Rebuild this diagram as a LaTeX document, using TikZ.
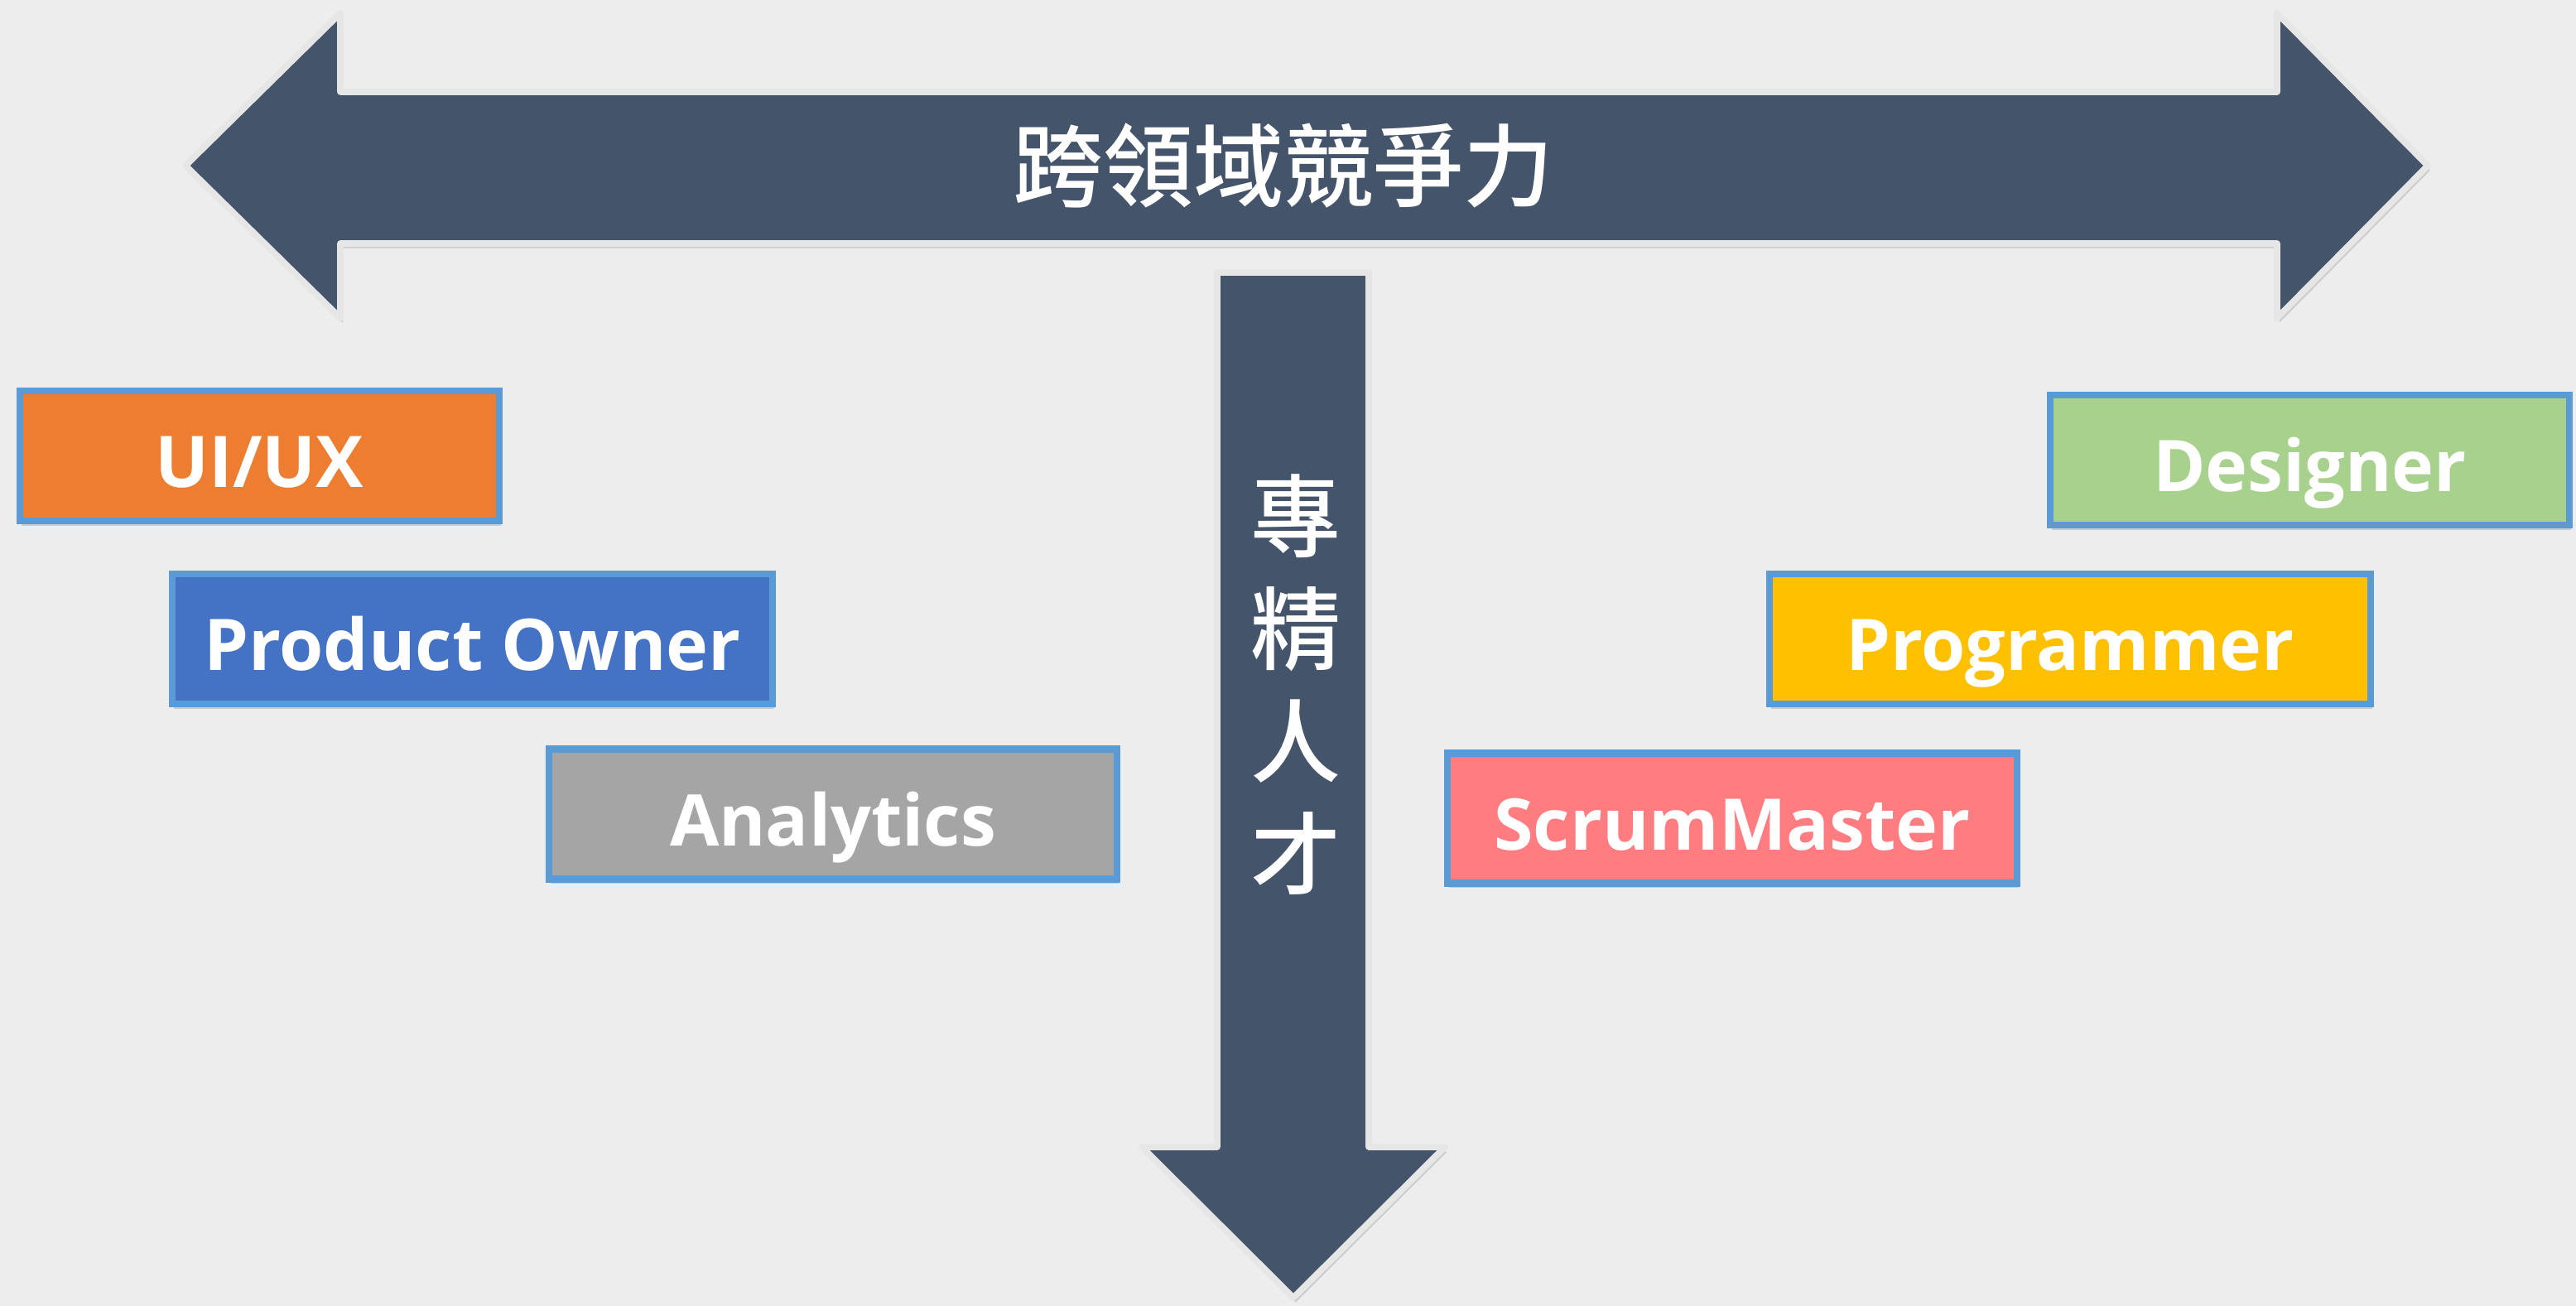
\documentclass[tikz,border=0pt]{standalone}
\usepackage{fontspec}
\setmainfont{Open Sans}
\newfontfamily\cjkfont{Noto Sans CJK TC Medium}
\usepackage{tikz}
\usetikzlibrary{shadows}
\definecolor{bgc}{HTML}{EDEDED}
\definecolor{arrowfill}{HTML}{44546A}
\definecolor{arrowedge}{HTML}{E6E6E6}
\definecolor{roleedge}{HTML}{5B9BD5}
\definecolor{uiorange}{HTML}{ED7D31}
\definecolor{poblue}{HTML}{4472C4}
\definecolor{angray}{HTML}{A5A5A5}
\definecolor{degreen}{HTML}{A9D18E}
\definecolor{prgold}{HTML}{FFC000}
\definecolor{smpink}{HTML}{FF7C80}

\begin{document}
\begin{tikzpicture}[
	bigarrow/.style={fill=arrowfill, draw=arrowedge, line width=2.2pt, line join=round,
		drop shadow={shadow xshift=0.8pt, shadow yshift=-1.6pt, opacity=0.3}},
	role/.style={draw=roleedge, line width=2.3pt, minimum height=1.57cm, text=white,
		text height=0.8cm, text depth=0.03cm,
		font=\bfseries\fontsize{24.5}{29}\selectfont,
		drop shadow={shadow xshift=0.6pt, shadow yshift=-1.6pt, opacity=0.3}},
	]
	\useasboundingbox (0,0) rectangle (31.11,-15.77);
	\fill[bgc] (0,0) rectangle (31.11,-15.77);
	
	% two-way arrow and down arrow
	\draw[bigarrow] (2.24,-2.00) -- (4.11,-0.16) -- (4.11,-1.11) -- (27.50,-1.11) -- (27.50,-0.16) -- (29.32,-2.00) -- (27.50,-3.84) -- (27.50,-2.94) -- (4.11,-2.94) -- (4.11,-3.84) -- cycle;
	\draw[bigarrow] (14.70,-3.29) -- (16.53,-3.29) -- (16.53,-13.85) -- (17.45,-13.85) -- (15.62,-15.67) -- (13.79,-13.85) -- (14.70,-13.85) -- cycle;
	\node[text=white, font=\cjkfont\fontsize{31}{36}\selectfont] (cross) at (15.50,-2.00) {跨領域競爭力};
	\node[text=white, align=center, font=\cjkfont\fontsize{31}{38.7}\selectfont] (deep) at (15.65,-8.27) {專\\精\\人\\才};
	
	% roles
	\node[role, fill=uiorange, minimum width=5.79cm] (uiux) at (3.135,-5.505) {UI/UX};
	\node[role, fill=poblue, minimum width=7.25cm] (owner) at (5.705,-7.715) {Product Owner};
	\node[role, fill=angray, minimum width=6.86cm] (analytics) at (10.06,-9.83) {Analytics};
	\node[role, fill=degreen, minimum width=6.27cm] (designer) at (27.895,-5.555) {Designer};
	\node[role, fill=prgold, minimum width=7.26cm] (programmer) at (25.00,-7.715) {Programmer};
	\node[role, fill=smpink, minimum width=6.88cm] (scrum) at (20.92,-9.88) {ScrumMaster};
\end{tikzpicture}
\end{document}
